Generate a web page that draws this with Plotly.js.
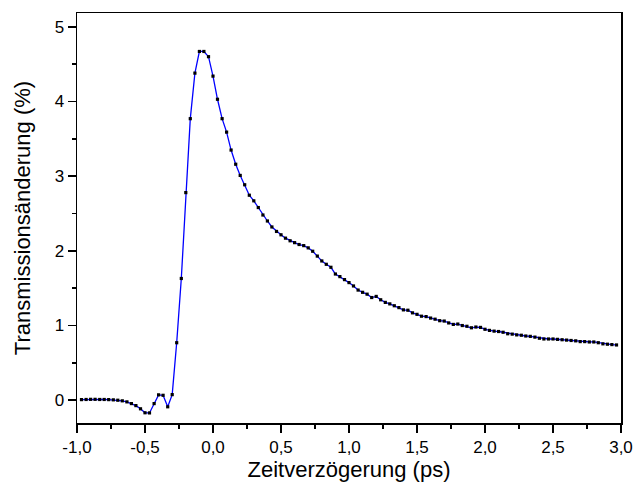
<!DOCTYPE html>
<html>
<head>
<meta charset="utf-8">
<script src="https://cdn.plot.ly/plotly-3.0.1.min.js"></script>
<style>html,body{margin:0;padding:0;background:#fff;}#chart{width:633px;height:490px;}</style>
</head>
<body>
<div id="chart"></div>
<script>
var delay = [-0.967,-0.933,-0.9,-0.867,-0.833,-0.8,-0.767,-0.733,-0.7,-0.667,
-0.633,-0.6,-0.567,-0.533,-0.5,-0.467,-0.433,-0.4,-0.367,-0.333,
-0.3,-0.267,-0.233,-0.2,-0.167,-0.133,-0.1,-0.067,-0.033,0,
0.033,0.067,0.1,0.133,0.167,0.2,0.233,0.267,0.3,0.333,
0.367,0.4,0.433,0.467,0.5,0.533,0.567,0.6,0.633,0.667,
0.7,0.733,0.767,0.8,0.833,0.867,0.9,0.933,0.967,1.0,
1.033,1.067,1.1,1.133,1.167,1.2,1.233,1.267,1.3,1.333,
1.367,1.4,1.433,1.467,1.5,1.533,1.567,1.6,1.633,1.667,
1.7,1.733,1.767,1.8,1.833,1.867,1.9,1.933,1.967,2.0,
2.033,2.067,2.1,2.133,2.167,2.2,2.233,2.267,2.3,2.333,
2.367,2.4,2.433,2.467,2.5,2.533,2.567,2.6,2.633,2.667,
2.7,2.733,2.767,2.8,2.833,2.867,2.9,2.933,2.967];
var transmission = [0.008,0.01,0.012,0.012,0.01,0.01,0.008,0.005,0.0,-0.008,
-0.022,-0.045,-0.072,-0.115,-0.168,-0.17,-0.045,0.072,0.066,-0.088,
0.075,0.77,1.63,2.78,3.77,4.38,4.67,4.67,4.6,4.34,
4.03,3.77,3.59,3.35,3.16,3.01,2.885,2.745,2.67,2.58,
2.48,2.40,2.32,2.26,2.215,2.17,2.135,2.11,2.085,2.07,
2.04,1.995,1.93,1.865,1.82,1.78,1.69,1.655,1.615,1.575,
1.53,1.475,1.445,1.42,1.375,1.39,1.345,1.31,1.29,1.265,
1.24,1.21,1.205,1.17,1.15,1.125,1.12,1.10,1.085,1.065,
1.06,1.035,1.015,1.02,1.0,0.99,0.97,0.98,0.975,0.95,
0.935,0.925,0.92,0.91,0.89,0.885,0.875,0.87,0.86,0.855,
0.845,0.83,0.82,0.82,0.82,0.815,0.81,0.805,0.80,0.795,
0.785,0.785,0.78,0.78,0.77,0.755,0.75,0.745,0.74];
var xTickVals = [-1,-0.5,0,0.5,1,1.5,2,2.5,3];
var xTickText = ['-1,0','-0,5','0,0','0,5','1,0','1,5','2,0','2,5','3,0'];
var yTickVals = [0,1,2,3,4,5];
var yTickText = ['0','1','2','3','4','5'];
var xTitle = 'Zeitverzögerung (ps)';
var yTitle = 'Transmissionsänderung (%)';

var xRange = [-1, 3];
var yRange = [-0.305, 5.185];
var fontFam = 'Liberation Sans, Arial, sans-serif';

var trace = {
  x: delay, y: transmission, type: 'scatter', mode: 'lines+markers',
  line: {color: '#0000ff', width: 1.3},
  marker: {symbol: 'square', size: 3.2, color: '#000000'},
  hoverinfo: 'x+y'
};

var baseAxis = {
  showgrid: false, zeroline: false, showline: true, linecolor: '#000', linewidth: 1.5,
  ticks: 'outside', ticklen: 8, tickwidth: 1.5, tickcolor: '#000',
  tickfont: {family: fontFam, size: 17, color: '#000'}
};

var layout = {
  width: 633, height: 490,
  margin: {l: 77, r: 12, t: 13, b: 67},
  paper_bgcolor: '#fff', plot_bgcolor: '#fff',
  showlegend: false,
  font: {family: fontFam, color: '#000'},
  xaxis: Object.assign({}, baseAxis, {
    range: xRange, mirror: true, tickmode: 'array', tickvals: xTickVals, ticktext: xTickText,
    minor: {dtick: 0.25, tick0: 0, ticks: 'outside', ticklen: 4, tickwidth: 1.5, tickcolor: '#000'},
    title: {text: xTitle, font: {family: fontFam, size: 22, color: '#000'}, standoff: 3}
  }),
  yaxis: Object.assign({}, baseAxis, {
    range: yRange, mirror: true, tickmode: 'array', tickvals: yTickVals, ticktext: yTickText,
    minor: {dtick: 0.5, tick0: 0, ticks: 'outside', ticklen: 4, tickwidth: 1.5, tickcolor: '#000'},
    title: {text: yTitle, font: {family: fontFam, size: 22, color: '#000'}, standoff: 18}
  }),
  xaxis2: {
    overlaying: 'x', side: 'top', range: xRange, showgrid: false, zeroline: false, showline: false,
    ticks: 'inside', ticklen: 8, tickwidth: 1.5, tickcolor: '#000', showticklabels: false,
    tickmode: 'array', tickvals: xTickVals,
    minor: {dtick: 0.25, tick0: 0, ticks: 'inside', ticklen: 4, tickwidth: 1.5, tickcolor: '#000'}
  },
  yaxis2: {
    overlaying: 'y', side: 'right', range: yRange, showgrid: false, zeroline: false, showline: false,
    ticks: 'inside', ticklen: 8, tickwidth: 1.5, tickcolor: '#000', showticklabels: false,
    tickmode: 'array', tickvals: yTickVals,
    minor: {dtick: 0.5, tick0: 0, ticks: 'inside', ticklen: 4, tickwidth: 1.5, tickcolor: '#000'}
  }
};

Plotly.newPlot('chart', [trace], layout, {staticPlot: true, displayModeBar: false});
</script>
</body>
</html>
